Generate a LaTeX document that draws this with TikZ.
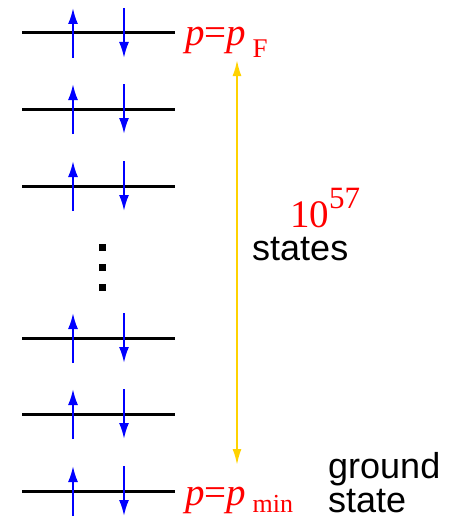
\documentclass[tikz,border=0pt]{standalone}
\usepackage{fontspec}
\setmainfont{Liberation Serif}
\setsansfont{Liberation Sans}
\usetikzlibrary{arrows.meta}
\definecolor{spinblue}{RGB}{0,0,255}
\definecolor{spangold}{RGB}{255,210,0}
\tikzset{
  elevel/.style={line width=3pt},
  spin/.style={spinblue, line width=2pt, -{Latex[length=16pt,width=10pt]}},
  span/.style={spangold, line width=2pt, {Latex[length=16pt,width=9pt]}-{Latex[length=16pt,width=9pt]}},
  redlabel/.style={red, inner sep=0pt, anchor=base west, font=\fontsize{39}{40}\selectfont},
  blacklabel/.style={inner sep=0pt, anchor=base west, align=left, font=\sffamily\fontsize{36}{34}\selectfont}
}
\begin{document}
\begin{tikzpicture}[x=1pt,y=-1pt]
    \useasboundingbox (0,0) rectangle (462,519);
    % top level
    \begin{scope}[shift={(0,33)}]
        \draw[elevel] (22,0) -- (175,0);
        \draw[spin] (73,25) -- (73,-25);
        \draw[spin] (124,-25) -- (124,25);
    \end{scope}
    \begin{scope}[shift={(0,109)}]
        \draw[elevel] (22,0) -- (175,0);
        \draw[spin] (73,25) -- (73,-25);
        \draw[spin] (124,-25) -- (124,25);
    \end{scope}
    \begin{scope}[shift={(0,186)}]
        \draw[elevel] (22,0) -- (175,0);
        \draw[spin] (73,25) -- (73,-25);
        \draw[spin] (124,-25) -- (124,25);
    \end{scope}
    % dots
    \fill (98.5,243.5) rectangle ++(7,7);
    \fill (98.5,263.5) rectangle ++(7,7);
    \fill (98.5,283.5) rectangle ++(7,7);
    \begin{scope}[shift={(0,338)}]
        \draw[elevel] (22,0) -- (175,0);
        \draw[spin] (73,25) -- (73,-25);
        \draw[spin] (124,-25) -- (124,25);
    \end{scope}
    \begin{scope}[shift={(0,414)}]
        \draw[elevel] (22,0) -- (175,0);
        \draw[spin] (73,25) -- (73,-25);
        \draw[spin] (124,-25) -- (124,25);
    \end{scope}
    % ground level
    \begin{scope}[shift={(0,491)}]
        \draw[elevel] (22,0) -- (175,0);
        \draw[spin] (73,25) -- (73,-25);
        \draw[spin] (124,-25) -- (124,25);
    \end{scope}
    % labels
    \node[redlabel] (pF) at (185,46) {\textit{p}=\textit{p}\,\raisebox{-12pt}{\fontsize{27}{27}\selectfont F}};
    \node[redlabel] (pmin) at (185,505) {\textit{p}=\textit{p}\,\raisebox{-7pt}{\fontsize{26}{26}\selectfont min}};
    \node[redlabel] (count) at (290,227) {10\raisebox{19pt}{\fontsize{31}{31}\selectfont 57}};
    \node[blacklabel] (states) at (252,260) {states};
    \node[blacklabel] (ground) at (328,512) {ground\\state};
    % span of states
    \coordinate (top) at (237,60);
    \coordinate (bottom) at (237,465);
    \draw[span] (top) -- (bottom);
\end{tikzpicture}
\end{document}
